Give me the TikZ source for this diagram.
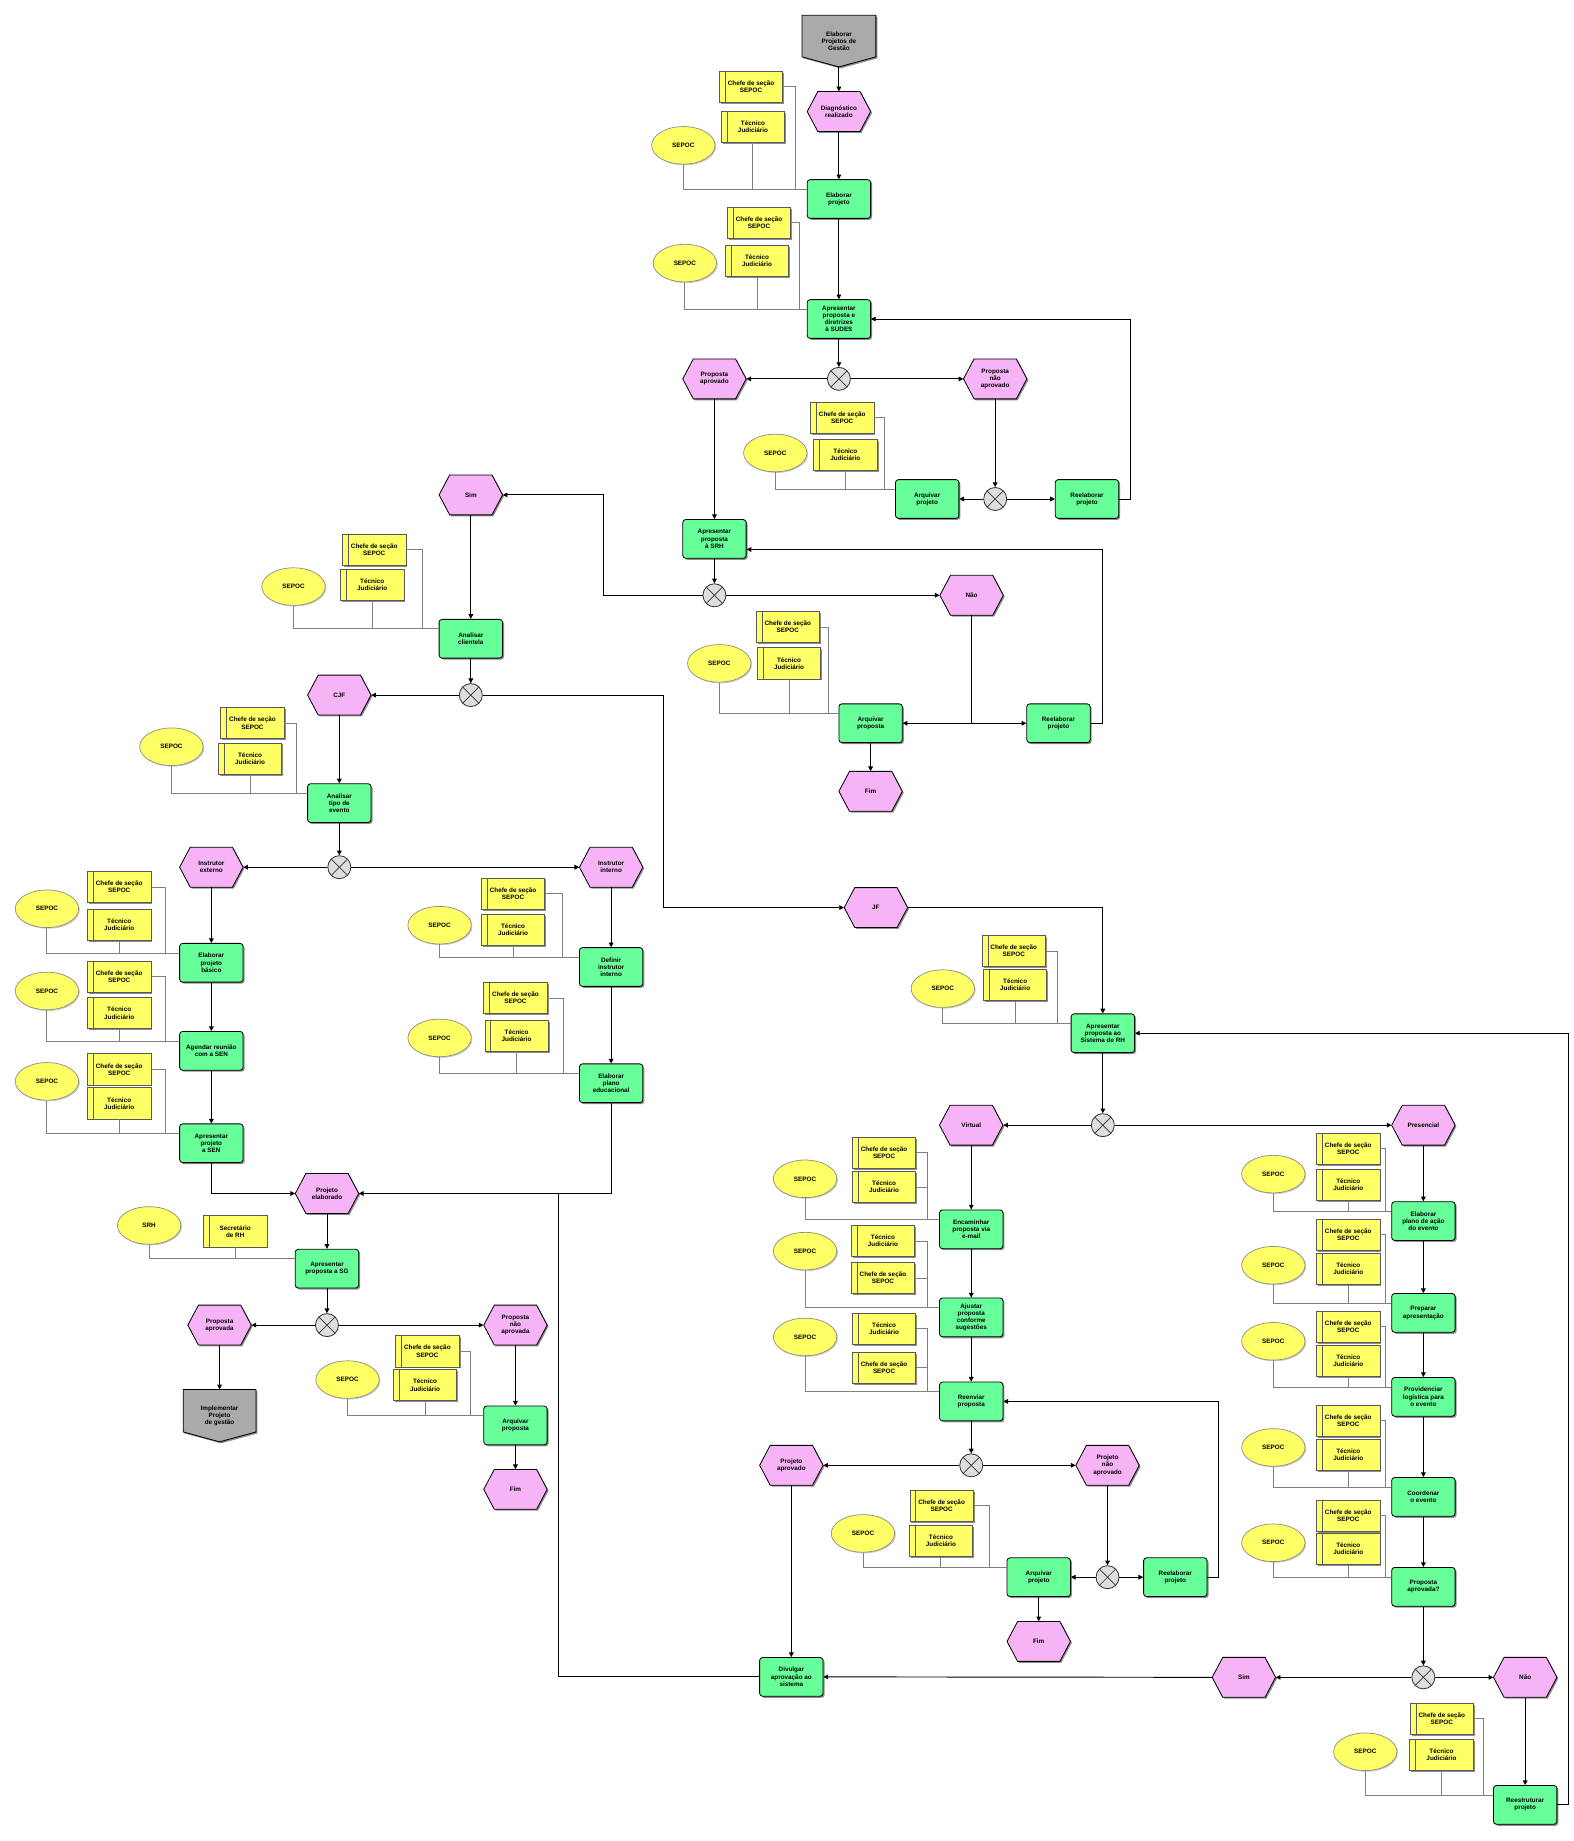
\documentclass[tikz,border=0pt]{standalone}
\usepackage{fontspec}
\newfontfamily\dfont{Liberation Sans}
\usetikzlibrary{arrows.meta,shapes.geometric,shadows}
\definecolor{fgreen}{RGB}{102,255,153}
\definecolor{epink}{RGB}{246,180,246}
\definecolor{oyellow}{RGB}{255,255,102}
\definecolor{xgrey}{RGB}{222,222,222}
\definecolor{pgrey}{RGB}{170,170,170}
\newcommand\nfont{\dfont\bfseries\fontsize{5.4pt}{6.1pt}\selectfont}
\newcommand\epcevent[4]{%
  \fill[shadowc] (#2-25.8,#3+1.2) -- ++(9,-17) -- ++(36,0) -- ++(9,17) -- ++(-9,17) -- ++(-36,0) -- cycle;
  \draw[evshape] (#2-27,#3) -- ++(9,-17) -- ++(36,0) -- ++(9,17) -- ++(-9,17) -- ++(-36,0) -- cycle;
  \node[evtext] (#1) at (#2,#3) {#4};}
\newcommand\orggrp[5]{%
  \coordinate (ol) at ([yshift=-8.5pt]#1.north west);
  \coordinate (cx) at (#5,0);
  \draw[orgline] (ol) -| (#2.south);
  \draw[orgline] (#3.south) -- (#3.south |- ol);
  \draw[orgline] (#4.east) -- (#4.east -| cx) -- (ol -| cx);}
\newcommand\orggrpR[5]{%
  \coordinate (ol) at ([yshift=-8.5pt]#1.north west);
  \coordinate (cx) at (#5,0);
  \draw[orgline] (ol) -| (#2.south);
  \draw[orgline] (#3.east) -- (#3.east -| cx) -- (ol -| cx);
  \draw[orgline] (#4.east) -- (#4.east -| cx) -- (ol -| cx);}
\begin{document}
\begin{tikzpicture}[x=1pt,y=-1pt,
  base/.style={font=\nfont, align=center, inner sep=0.5pt},
  shd/.style={drop shadow={shadow xshift=1.3pt, shadow yshift=-1.3pt, opacity=0.45, fill=black}},
  func/.style={base, shd, rectangle, rounded corners=2.5pt, draw=black, line width=0.7pt, fill=fgreen, minimum width=54pt, minimum height=33pt},
  orgbox/.style={base, shd, rectangle, draw=black!65, line width=0.6pt, fill=oyellow, minimum width=54pt, minimum height=26.5pt,
    path picture={\draw[black!65,line width=0.6pt] ([xshift=5pt]path picture bounding box.north west) -- ([xshift=5pt]path picture bounding box.south west);}},
  ell/.style={base, ellipse, draw=black!45, line width=0.6pt, fill=oyellow, minimum width=54pt, minimum height=32pt, inner sep=0pt,
    drop shadow={shadow xshift=1pt, shadow yshift=-1pt, opacity=0.2, fill=black}},
  xor/.style={circle, draw=black!80, line width=0.7pt, fill=xgrey, minimum size=19.6pt, inner sep=0pt,
    path picture={\draw[black!80,line width=0.6pt] (path picture bounding box.south west) -- (path picture bounding box.north east) (path picture bounding box.north west) -- (path picture bounding box.south east);}},
  evshape/.style={draw=black, line width=0.7pt, fill=epink},
  evtext/.style={base, minimum width=54pt, minimum height=34pt, inner sep=0pt},
  pshape/.style={draw=black, line width=0.7pt, fill=pgrey},
  ptext/.style={base, minimum width=63pt, inner sep=0pt},
  shadowc/.style={fill=black, opacity=0.45},
  flow/.style={draw=black, line width=0.8pt, -{Triangle[length=4pt,width=4pt]}},
  plain/.style={draw=black, line width=0.8pt},
  orgline/.style={draw=black!50, line width=0.8pt}]
\useasboundingbox (0,0) rectangle (1340,1568);
\fill[white] (0,0) rectangle (1340,1568);

% ---------- start / end ----------
\fill[shadowc] (684.3,14.3) -- (747.3,14.3) -- (747.3,49.7) -- (715.8,58.3) -- (684.3,49.7) -- cycle;
\draw[pshape] (683,13) -- (746,13) -- (746,48.4) -- (714.5,57) -- (683,48.4) -- cycle;
\node[ptext, minimum height=44pt] (st) at (714.5,35) {Elaborar\\Projetos de\\Gestão};
\fill[shadowc] (157.3,1184.8) -- (219.3,1184.8) -- (219.3,1220.9) -- (188.3,1229.3) -- (157.3,1220.9) -- cycle;
\draw[pshape] (156,1183.5) -- (218,1183.5) -- (218,1219.6) -- (187,1228) -- (156,1219.6) -- cycle;
\node[ptext, minimum height=44.5pt] (en) at (187,1205.75) {Implementar\\Projeto\\de gestão};

% ---------- events ----------
\epcevent{d1}{714.5}{95}{Diagnóstico\\realizado}
\epcevent{e1}{608.5}{322.7}{Proposta\\aprovado}
\epcevent{e2}{847.6}{322.7}{Proposta\\não\\aprovado}
\epcevent{e3}{401}{421.5}{Sim}
\epcevent{e4}{827.5}{507}{Não}
\epcevent{e5}{741.5}{674}{Fim}
\epcevent{e6}{289}{592}{CJF}
\epcevent{e7}{746}{773}{JF}
\epcevent{e8}{180}{738.6}{Instrutor\\externo}
\epcevent{e9}{520.5}{738.6}{Instrutor\\interno}
\epcevent{e10}{278.5}{1016.5}{Projeto\\elaborado}
\epcevent{e11}{187}{1128.6}{Proposta\\aprovada}
\epcevent{e12}{439}{1128.6}{Proposta\\não\\aprovada}
\epcevent{e13}{439}{1268.5}{Fim}
\epcevent{e14}{827.2}{958.3}{Virtual}
\epcevent{e15}{1212.3}{958.3}{Presencial}
\epcevent{e16}{674}{1248}{Projeto\\aprovado}
\epcevent{e17}{943.3}{1248}{Projeto\\não\\aprovado}
\epcevent{e18}{884.7}{1398}{Fim}
\epcevent{e19}{1059.4}{1428.6}{Sim}
\epcevent{e20}{1299}{1428.6}{Não}

% ---------- functions ----------
\node[func] (f1) at (714.5,169.5) {Elaborar\\projeto};
\node[func] (f2) at (714.5,271.7) {Apresentar\\proposta e\\diretrizes\\à SUDES};
\node[func] (f3) at (789.7,425) {Arquivar\\projeto};
\node[func] (f4) at (925.8,425) {Reelaborar\\projeto};
\node[func] (f5) at (608.5,459) {Apresentar\\proposta\\à SRH};
\node[func] (f6) at (741.5,616) {Arquivar\\proposta};
\node[func] (f7) at (901.5,616) {Reelaborar\\projeto};
\node[func] (f8) at (401,544) {Analisar\\clientela};
\node[func] (f9) at (289,684) {Analisar\\tipo de\\evento};
\node[func] (f10) at (180,820) {Elaborar\\projeto\\básico};
\node[func] (f11) at (180,895) {Agendar reunião\\com a SEN};
\node[func] (f12) at (180,973.7) {Apresentar\\projeto\\a SEN};
\node[func] (f13) at (520.5,823.6) {Definir\\instrutor\\interno};
\node[func] (f14) at (520.5,922.6) {Elaborar\\plano\\educacional};
\node[func] (f15) at (278.5,1080.5) {Apresentar\\proposta a SG};
\node[func] (f16) at (439,1214) {Arquivar\\proposta};
\node[func] (f17) at (939.3,880) {Apresentar\\proposta ao\\Sistema de RH};
\node[func] (f18) at (827.2,1047) {Encaminhar\\proposta via\\e-mail};
\node[func] (f19) at (827.2,1122) {Ajustar\\proposta\\conforme\\sugestões};
\node[func] (f20) at (827.2,1193.6) {Reenviar\\proposta};
\node[func] (f21) at (884.7,1343.3) {Arquivar\\projeto};
\node[func] (f22) at (1001,1343.3) {Reelaborar\\projeto};
\node[func] (f23) at (674,1428.2) {Divulgar\\aprovação ao\\sistema};
\node[func] (f24) at (1212.3,1040) {Elaborar\\plano de ação\\do evento};
\node[func] (f25) at (1212.3,1118.2) {Preparar\\apresentação};
\node[func] (f26) at (1212.3,1189.7) {Providenciar\\logística para\\o evento};
\node[func] (f27) at (1212.3,1274.9) {Coordenar\\o evento};
\node[func] (f28) at (1212.3,1351.5) {Proposta\\aprovada?};
\node[func] (f29) at (1299,1537.2) {Reestruturar\\projeto};

% ---------- XOR connectors ----------
\node[xor] (x1) at (714.5,322.7) {};
\node[xor] (x2) at (847.6,425) {};
\node[xor] (x3) at (608.5,507) {};
\node[xor] (x4) at (401,592) {};
\node[xor] (x5) at (289,738.6) {};
\node[xor] (x6) at (278.5,1128.6) {};
\node[xor] (x7) at (939.3,958.3) {};
\node[xor] (x8) at (827.2,1248) {};
\node[xor] (x9) at (943.3,1343.3) {};
\node[xor] (x10) at (1212.3,1428.6) {};

% ---------- organisational units ----------
\node[orgbox] (c1) at (639.7,74) {Chefe de seção\\SEPOC};
\node[orgbox] (t1) at (641.3,107.8) {Técnico\\Judiciário};
\node[ell] (s1) at (582,123.8) {SEPOC};
\node[orgbox] (c2) at (646.5,189.8) {Chefe de seção\\SEPOC};
\node[orgbox] (t2) at (644.8,222.2) {Técnico\\Judiciário};
\node[ell] (s2) at (583.3,224.1) {SEPOC};
\node[orgbox] (c3) at (717.3,355.8) {Chefe de seção\\SEPOC};
\node[orgbox] (t3) at (720,387.5) {Técnico\\Judiciário};
\node[ell] (s3) at (660.3,385.8) {SEPOC};
\node[orgbox] (c4) at (671,534) {Chefe de seção\\SEPOC};
\node[orgbox] (t4) at (672,565) {Técnico\\Judiciário};
\node[ell] (s4) at (612.6,565) {SEPOC};
\node[orgbox] (c5) at (318.7,468) {Chefe de seção\\SEPOC};
\node[orgbox] (t5) at (317,498) {Técnico\\Judiciário};
\node[ell] (s5) at (250,499.6) {SEPOC};
\node[orgbox] (c6) at (215,616) {Chefe de seção\\SEPOC};
\node[orgbox] (t6) at (213,646) {Técnico\\Judiciário};
\node[ell] (s6) at (146,636) {SEPOC};
\node[orgbox] (c7) at (101.5,755.5) {Chefe de seção\\SEPOC};
\node[orgbox] (t7) at (101.5,787.6) {Técnico\\Judiciário};
\node[ell] (s7) at (40,774) {SEPOC};
\node[orgbox] (c8) at (101.5,831.7) {Chefe de seção\\SEPOC};
\node[orgbox] (t8) at (101.5,863) {Técnico\\Judiciário};
\node[ell] (s8) at (40,844) {SEPOC};
\node[orgbox] (c9) at (101.5,910.8) {Chefe de seção\\SEPOC};
\node[orgbox] (t9) at (101.5,939.7) {Técnico\\Judiciário};
\node[ell] (s9) at (40,921) {SEPOC};
\node[orgbox] (c10) at (437,761) {Chefe de seção\\SEPOC};
\node[orgbox] (t10) at (437,791.8) {Técnico\\Judiciário};
\node[ell] (s10) at (374.4,788) {SEPOC};
\node[orgbox] (c11) at (439,850) {Chefe de seção\\SEPOC};
\node[orgbox] (t11) at (440,882) {Técnico\\Judiciário};
\node[ell] (s11) at (374.4,884) {SEPOC};
\node[ell] (s12) at (127,1043.7) {SRH};
\node[orgbox] (c12) at (200.3,1048.7) {Secretário\\de RH};
\node[orgbox] (c13) at (364,1150.9) {Chefe de seção\\SEPOC};
\node[orgbox] (t13) at (362,1179.8) {Técnico\\Judiciário};
\node[ell] (s13) at (296,1175) {SEPOC};
\node[orgbox] (c14) at (863.4,810) {Chefe de seção\\SEPOC};
\node[orgbox] (t14) at (864.6,839) {Técnico\\Judiciário};
\node[ell] (s14) at (803,842) {SEPOC};
\node[orgbox] (c15) at (753,981.8) {Chefe de seção\\SEPOC};
\node[orgbox] (t15) at (753,1011) {Técnico\\Judiciário};
\node[ell] (s15) at (685.7,1004) {SEPOC};
\node[orgbox] (t16) at (752,1057) {Técnico\\Judiciário};
\node[orgbox] (c16) at (752,1088.5) {Chefe de seção\\SEPOC};
\node[ell] (s16) at (685.7,1065.6) {SEPOC};
\node[orgbox] (t17) at (753,1131.7) {Técnico\\Judiciário};
\node[orgbox] (c17) at (753,1164.8) {Chefe de seção\\SEPOC};
\node[ell] (s17) at (685.7,1138.7) {SEPOC};
\node[orgbox] (c18) at (802,1282.6) {Chefe de seção\\SEPOC};
\node[orgbox] (t18) at (801.4,1312.4) {Técnico\\Judiciário};
\node[ell] (s18) at (735,1306) {SEPOC};
\node[orgbox] (c19) at (1148.3,978.5) {Chefe de seção\\SEPOC};
\node[orgbox] (t19) at (1148.3,1009) {Técnico\\Judiciário};
\node[ell] (s19) at (1084.5,1000) {SEPOC};
\node[orgbox] (c20) at (1148.3,1051.6) {Chefe de seção\\SEPOC};
\node[orgbox] (t20) at (1148.3,1080.7) {Técnico\\Judiciário};
\node[ell] (s20) at (1084.5,1077.6) {SEPOC};
\node[orgbox] (c21) at (1148.3,1130) {Chefe de seção\\SEPOC};
\node[orgbox] (t21) at (1148.3,1159) {Técnico\\Judiciário};
\node[ell] (s21) at (1084.5,1142.4) {SEPOC};
\node[orgbox] (c22) at (1148.3,1210) {Chefe de seção\\SEPOC};
\node[orgbox] (t22) at (1148.3,1239) {Técnico\\Judiciário};
\node[ell] (s22) at (1084.5,1232.8) {SEPOC};
\node[orgbox] (c23) at (1148.3,1291) {Chefe de seção\\SEPOC};
\node[orgbox] (t23) at (1148.3,1319) {Técnico\\Judiciário};
\node[ell] (s23) at (1084.5,1314) {SEPOC};
\node[orgbox] (c24) at (1228,1464) {Chefe de seção\\SEPOC};
\node[orgbox] (t24) at (1227.7,1494.6) {Técnico\\Judiciário};
\node[ell] (s24) at (1162.8,1492) {SEPOC};

% ---------- organisational links ----------
\orggrp{f1}{s1}{t1}{c1}{677.5}
\orggrp{f2}{s2}{t2}{c2}{681}
\orggrp{f3}{s3}{t3}{c3}{753.6}
\orggrp{f6}{s4}{t4}{c4}{706}
\orggrp{f8}{s5}{t5}{c5}{359.5}
\orggrp{f9}{s6}{t6}{c6}{252.7}
\orggrp{f10}{s7}{t7}{c7}{141}
\orggrp{f11}{s8}{t8}{c8}{141}
\orggrp{f12}{s9}{t9}{c9}{141}
\orggrp{f13}{s10}{t10}{c10}{478.7}
\orggrp{f14}{s11}{t11}{c11}{479.6}
\coordinate (ol) at ([yshift=-8.5pt]f15.north west);
\draw[orgline] (ol) -| (s12.south);
\draw[orgline] (c12.south) -- (c12.south |- ol);
\orggrp{f16}{s13}{t13}{c13}{401}
\orggrp{f17}{s14}{t14}{c14}{901}
\orggrpR{f18}{s15}{t15}{c15}{789.7}
\orggrpR{f19}{s16}{t16}{c16}{789.7}
\orggrpR{f20}{s17}{t17}{c17}{789.7}
\orggrp{f21}{s18}{t18}{c18}{843}
\orggrp{f24}{s19}{t19}{c19}{1180}
\orggrp{f25}{s20}{t20}{c20}{1180}
\orggrp{f26}{s21}{t21}{c21}{1180}
\orggrp{f27}{s22}{t22}{c22}{1180}
\orggrp{f28}{s23}{t23}{c23}{1180}
\orggrp{f29}{s24}{t24}{c24}{1263.5}

% ---------- control flow ----------
\draw[flow] (st.south) -- (d1.north);
\draw[flow] (d1.south) -- (f1.north);
\draw[flow] (f1.south) -- (f2.north);
\draw[flow] (f2.south) -- (x1.north);
\draw[flow] (x1.west) -- (e1.east);
\draw[flow] (x1.east) -- (e2.west);
\draw[flow] (e2.south) -- (x2.north);
\draw[flow] (x2.west) -- (f3.east);
\draw[flow] (x2.east) -- (f4.west);
\draw[flow] (f4.east) -- ++(10,0) |- (f2.east);
\draw[flow] (e1.south) -- (f5.north);
\draw[flow] (f5.south) -- (x3.north);
\coordinate (k1) at (514,507);
\draw[flow] (x3.west) -- (k1) |- (e3.east);
\draw[flow] (x3.east) -- (e4.west);
\draw[flow] (e4.south) |- (f6.east);
\draw[flow] (e4.south) |- (f7.west);
\draw[flow] (f7.east) -- ++(10,0) |- ([yshift=-9pt]f5.east);
\draw[flow] (f6.south) -- (e5.north);
\draw[flow] (e3.south) -- (f8.north);
\draw[flow] (f8.south) -- (x4.north);
\draw[flow] (x4.west) -- (e6.east);
\coordinate (k2) at (565,773);
\draw[flow] (x4.east) -| (k2) -- (e7.west);
\draw[flow] (e7.east) -| (f17.north);
\draw[flow] (e6.south) -- (f9.north);
\draw[flow] (f9.south) -- (x5.north);
\draw[flow] (x5.west) -- (e8.east);
\draw[flow] (x5.east) -- (e9.west);
\draw[flow] (e8.south) -- (f10.north);
\draw[flow] (f10.south) -- (f11.north);
\draw[flow] (f11.south) -- (f12.north);
\draw[flow] (f12.south) |- (e10.west);
\draw[flow] (e9.south) -- (f13.north);
\draw[flow] (f13.south) -- (f14.north);
\draw[flow] (f14.south) |- (e10.east);
\coordinate (k3) at (476,1016.5);
\draw[plain] (f23.west) -| (k3);
\draw[flow] (e10.south) -- (f15.north);
\draw[flow] (f15.south) -- (x6.north);
\draw[flow] (x6.west) -- (e11.east);
\draw[flow] (x6.east) -- (e12.west);
\draw[flow] (e11.south) -- (en.north);
\draw[flow] (e12.south) -- (f16.north);
\draw[flow] (f16.south) -- (e13.north);
\draw[flow] (f17.south) -- (x7.north);
\draw[flow] (x7.west) -- (e14.east);
\draw[flow] (x7.east) -- (e15.west);
\draw[flow] (e14.south) -- (f18.north);
\draw[flow] (f18.south) -- (f19.north);
\draw[flow] (f19.south) -- (f20.north);
\draw[flow] (f20.south) -- (x8.north);
\draw[flow] (x8.west) -- (e16.east);
\draw[flow] (x8.east) -- (e17.west);
\draw[flow] (e17.south) -- (x9.north);
\draw[flow] (x9.west) -- (f21.east);
\draw[flow] (x9.east) -- (f22.west);
\draw[flow] (f22.east) -- ++(9,0) |- (f20.east);
\draw[flow] (f21.south) -- (e18.north);
\draw[flow] (e16.south) -- (f23.north);
\draw[flow] (e15.south) -- (f24.north);
\draw[flow] (f24.south) -- (f25.north);
\draw[flow] (f25.south) -- (f26.north);
\draw[flow] (f26.south) -- (f27.north);
\draw[flow] (f27.south) -- (f28.north);
\draw[flow] (f28.south) -- (x10.north);
\draw[flow] (x10.west) -- (e19.east);
\draw[flow] (x10.east) -- (e20.west);
\draw[flow] (e19.west) -- (f23.east);
\draw[flow] (e20.south) -- (f29.north);
\draw[flow] (f29.east) -- ++(9.5,0) |- (f17.east);
\end{tikzpicture}
\end{document}
